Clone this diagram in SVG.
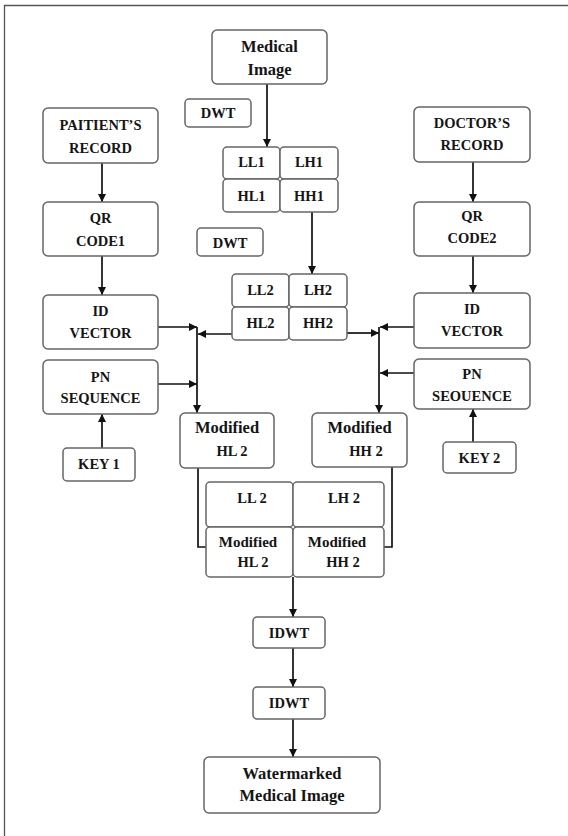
<svg xmlns="http://www.w3.org/2000/svg" width="568" height="836" viewBox="0 0 568 836">
<defs>
<marker id="ah" markerUnits="userSpaceOnUse" markerWidth="9" markerHeight="8" refX="8" refY="4" orient="auto">
<path d="M0,0 L8,4 L0,8 z" fill="#111"/>
</marker>
<style>
.b{fill:#fff;stroke:#666;stroke-width:1.5}
.t{font-family:"Liberation Serif","DejaVu Serif",serif;font-weight:bold;font-size:14.5px;fill:#151515;text-anchor:middle}
.m{font-size:16.5px}
.s{font-size:15px}
.c{fill:none;stroke:#111;stroke-width:1.7}
.a{marker-end:url(#ah)}
</style>
</defs>
<rect width="568" height="836" fill="#fff"/>
<path d="M4.5,840 V5.5 H568" fill="none" stroke="#555" stroke-width="1.3"/>

<g id="connectors">
<path class="c a" d="M267,84 V147"/>
<path class="c a" d="M312,212 V274"/>
<path class="c a" d="M102,163 V202"/>
<path class="c a" d="M102,256 V295"/>
<path class="c a" d="M102,448 V414"/>
<path class="c a" d="M158,327 H197"/>
<path class="c a" d="M158,384 H197"/>
<path class="c a" d="M232,334 H198"/>
<path class="c a" d="M197,327 V413"/>
<path class="c a" d="M473,162 V202"/>
<path class="c a" d="M473,256 V293"/>
<path class="c a" d="M473,442 V409"/>
<path class="c a" d="M414,327 H380"/>
<path class="c a" d="M414,373 H380"/>
<path class="c a" d="M347,333 H379"/>
<path class="c a" d="M379,327 V413"/>
<path class="c" d="M198,468 V547 H206"/>
<path class="c" d="M392,467 V547 H384"/>
<path class="c a" d="M293,577 V617"/>
<path class="c a" d="M293,648 V687"/>
<path class="c a" d="M293,719 V757"/>
</g>

<g id="medical-image"><rect class="b" x="212" y="30" width="115" height="54" rx="5"/><text class="t m" x="269.5" y="52">Medical</text><text class="t m" x="269.5" y="75">Image</text></g>
<g id="dwt1"><rect class="b" x="185" y="99" width="66" height="28" rx="4"/><text class="t" x="218" y="118">DWT</text></g>
<g id="ll1"><rect class="b" x="223" y="147" width="57" height="32" rx="4"/><text class="t" x="251.5" y="167">LL1</text></g>
<g id="lh1"><rect class="b" x="280" y="147" width="58" height="32" rx="4"/><text class="t" x="309" y="167">LH1</text></g>
<g id="hl1"><rect class="b" x="223" y="179" width="57" height="33" rx="4"/><text class="t" x="251.5" y="200.5">HL1</text></g>
<g id="hh1"><rect class="b" x="280" y="179" width="58" height="33" rx="4"/><text class="t" x="309" y="200.5">HH1</text></g>
<g id="dwt2"><rect class="b" x="197" y="228" width="66" height="28" rx="4"/><text class="t" x="230" y="247.5">DWT</text></g>
<g id="ll2"><rect class="b" x="232" y="274" width="57" height="33" rx="4"/><text class="t" x="260.5" y="295">LL2</text></g>
<g id="lh2"><rect class="b" x="289" y="274" width="58" height="33" rx="4"/><text class="t" x="318" y="295">LH2</text></g>
<g id="hl2"><rect class="b" x="232" y="307" width="57" height="33" rx="4"/><text class="t" x="260.5" y="328">HL2</text></g>
<g id="hh2"><rect class="b" x="289" y="307" width="58" height="33" rx="4"/><text class="t" x="318" y="328">HH2</text></g>

<g id="patients-record"><rect class="b" x="43" y="108" width="115" height="55" rx="5"/><text class="t" x="100.5" y="129.5">PAITIENT’S</text><text class="t" x="100.5" y="152.5">RECORD</text></g>
<g id="qr-code1"><rect class="b" x="43" y="202" width="115" height="54" rx="5"/><text class="t" x="100.5" y="223">QR</text><text class="t" x="100.5" y="246">CODE1</text></g>
<g id="id-vector1"><rect class="b" x="43" y="295" width="115" height="54" rx="5"/><text class="t" x="100.5" y="316">ID</text><text class="t" x="100.5" y="338">VECTOR</text></g>
<g id="pn-sequence1"><rect class="b" x="43" y="360" width="115" height="54" rx="5"/><text class="t" x="100.5" y="382">PN</text><text class="t" x="100.5" y="403">SEQUENCE</text></g>
<g id="key1"><rect class="b" x="63" y="448" width="72" height="33" rx="4"/><text class="t" x="99" y="468.5">KEY 1</text></g>

<g id="doctors-record"><rect class="b" x="414" y="107" width="116" height="55" rx="5"/><text class="t" x="472" y="128">DOCTOR’S</text><text class="t" x="472" y="150">RECORD</text></g>
<g id="qr-code2"><rect class="b" x="414" y="202" width="116" height="54" rx="5"/><text class="t" x="472" y="221">QR</text><text class="t" x="472" y="243">CODE2</text></g>
<g id="id-vector2"><rect class="b" x="414" y="293" width="116" height="55" rx="5"/><text class="t" x="472" y="314">ID</text><text class="t" x="472" y="336">VECTOR</text></g>
<g id="pn-sequence2"><rect class="b" x="414" y="359" width="116" height="50" rx="5"/><text class="t" x="472" y="379">PN</text><text class="t" x="472" y="401">SEOUENCE</text></g>
<g id="key2"><rect class="b" x="443" y="442" width="73" height="31" rx="4"/><text class="t" x="479.5" y="462.5">KEY 2</text></g>

<g id="modified-hl2"><rect class="b" x="180" y="413" width="94" height="55" rx="5"/><text class="t m" x="227" y="433">Modified</text><text class="t" x="232" y="456">HL 2</text></g>
<g id="modified-hh2"><rect class="b" x="312" y="413" width="95" height="54" rx="5"/><text class="t m" x="359.5" y="433">Modified</text><text class="t" x="366" y="456">HH 2</text></g>

<g id="ll2-b"><rect class="b" x="206" y="482" width="87" height="45" rx="4"/><text class="t" x="252" y="502.5">LL 2</text></g>
<g id="lh2-b"><rect class="b" x="293" y="482" width="91" height="45" rx="4"/><text class="t" x="344" y="502.5">LH 2</text></g>
<g id="modified-hl2-b"><rect class="b" x="206" y="527" width="87" height="50" rx="4"/><text class="t s" x="248" y="546.5">Modified</text><text class="t" x="253" y="566.5">HL 2</text></g>
<g id="modified-hh2-b"><rect class="b" x="293" y="527" width="91" height="50" rx="4"/><text class="t s" x="337" y="546.5">Modified</text><text class="t" x="343" y="566.5">HH 2</text></g>

<g id="idwt1"><rect class="b" x="253" y="617" width="72" height="31" rx="4"/><text class="t" x="289" y="637.5">IDWT</text></g>
<g id="idwt2"><rect class="b" x="253" y="687" width="72" height="32" rx="4"/><text class="t" x="289" y="707.5">IDWT</text></g>
<g id="watermarked"><rect class="b" x="204" y="757" width="176" height="56" rx="5"/><text class="t m" x="292" y="778.5">Watermarked</text><text class="t m" x="292" y="801">Medical Image</text></g>
</svg>
